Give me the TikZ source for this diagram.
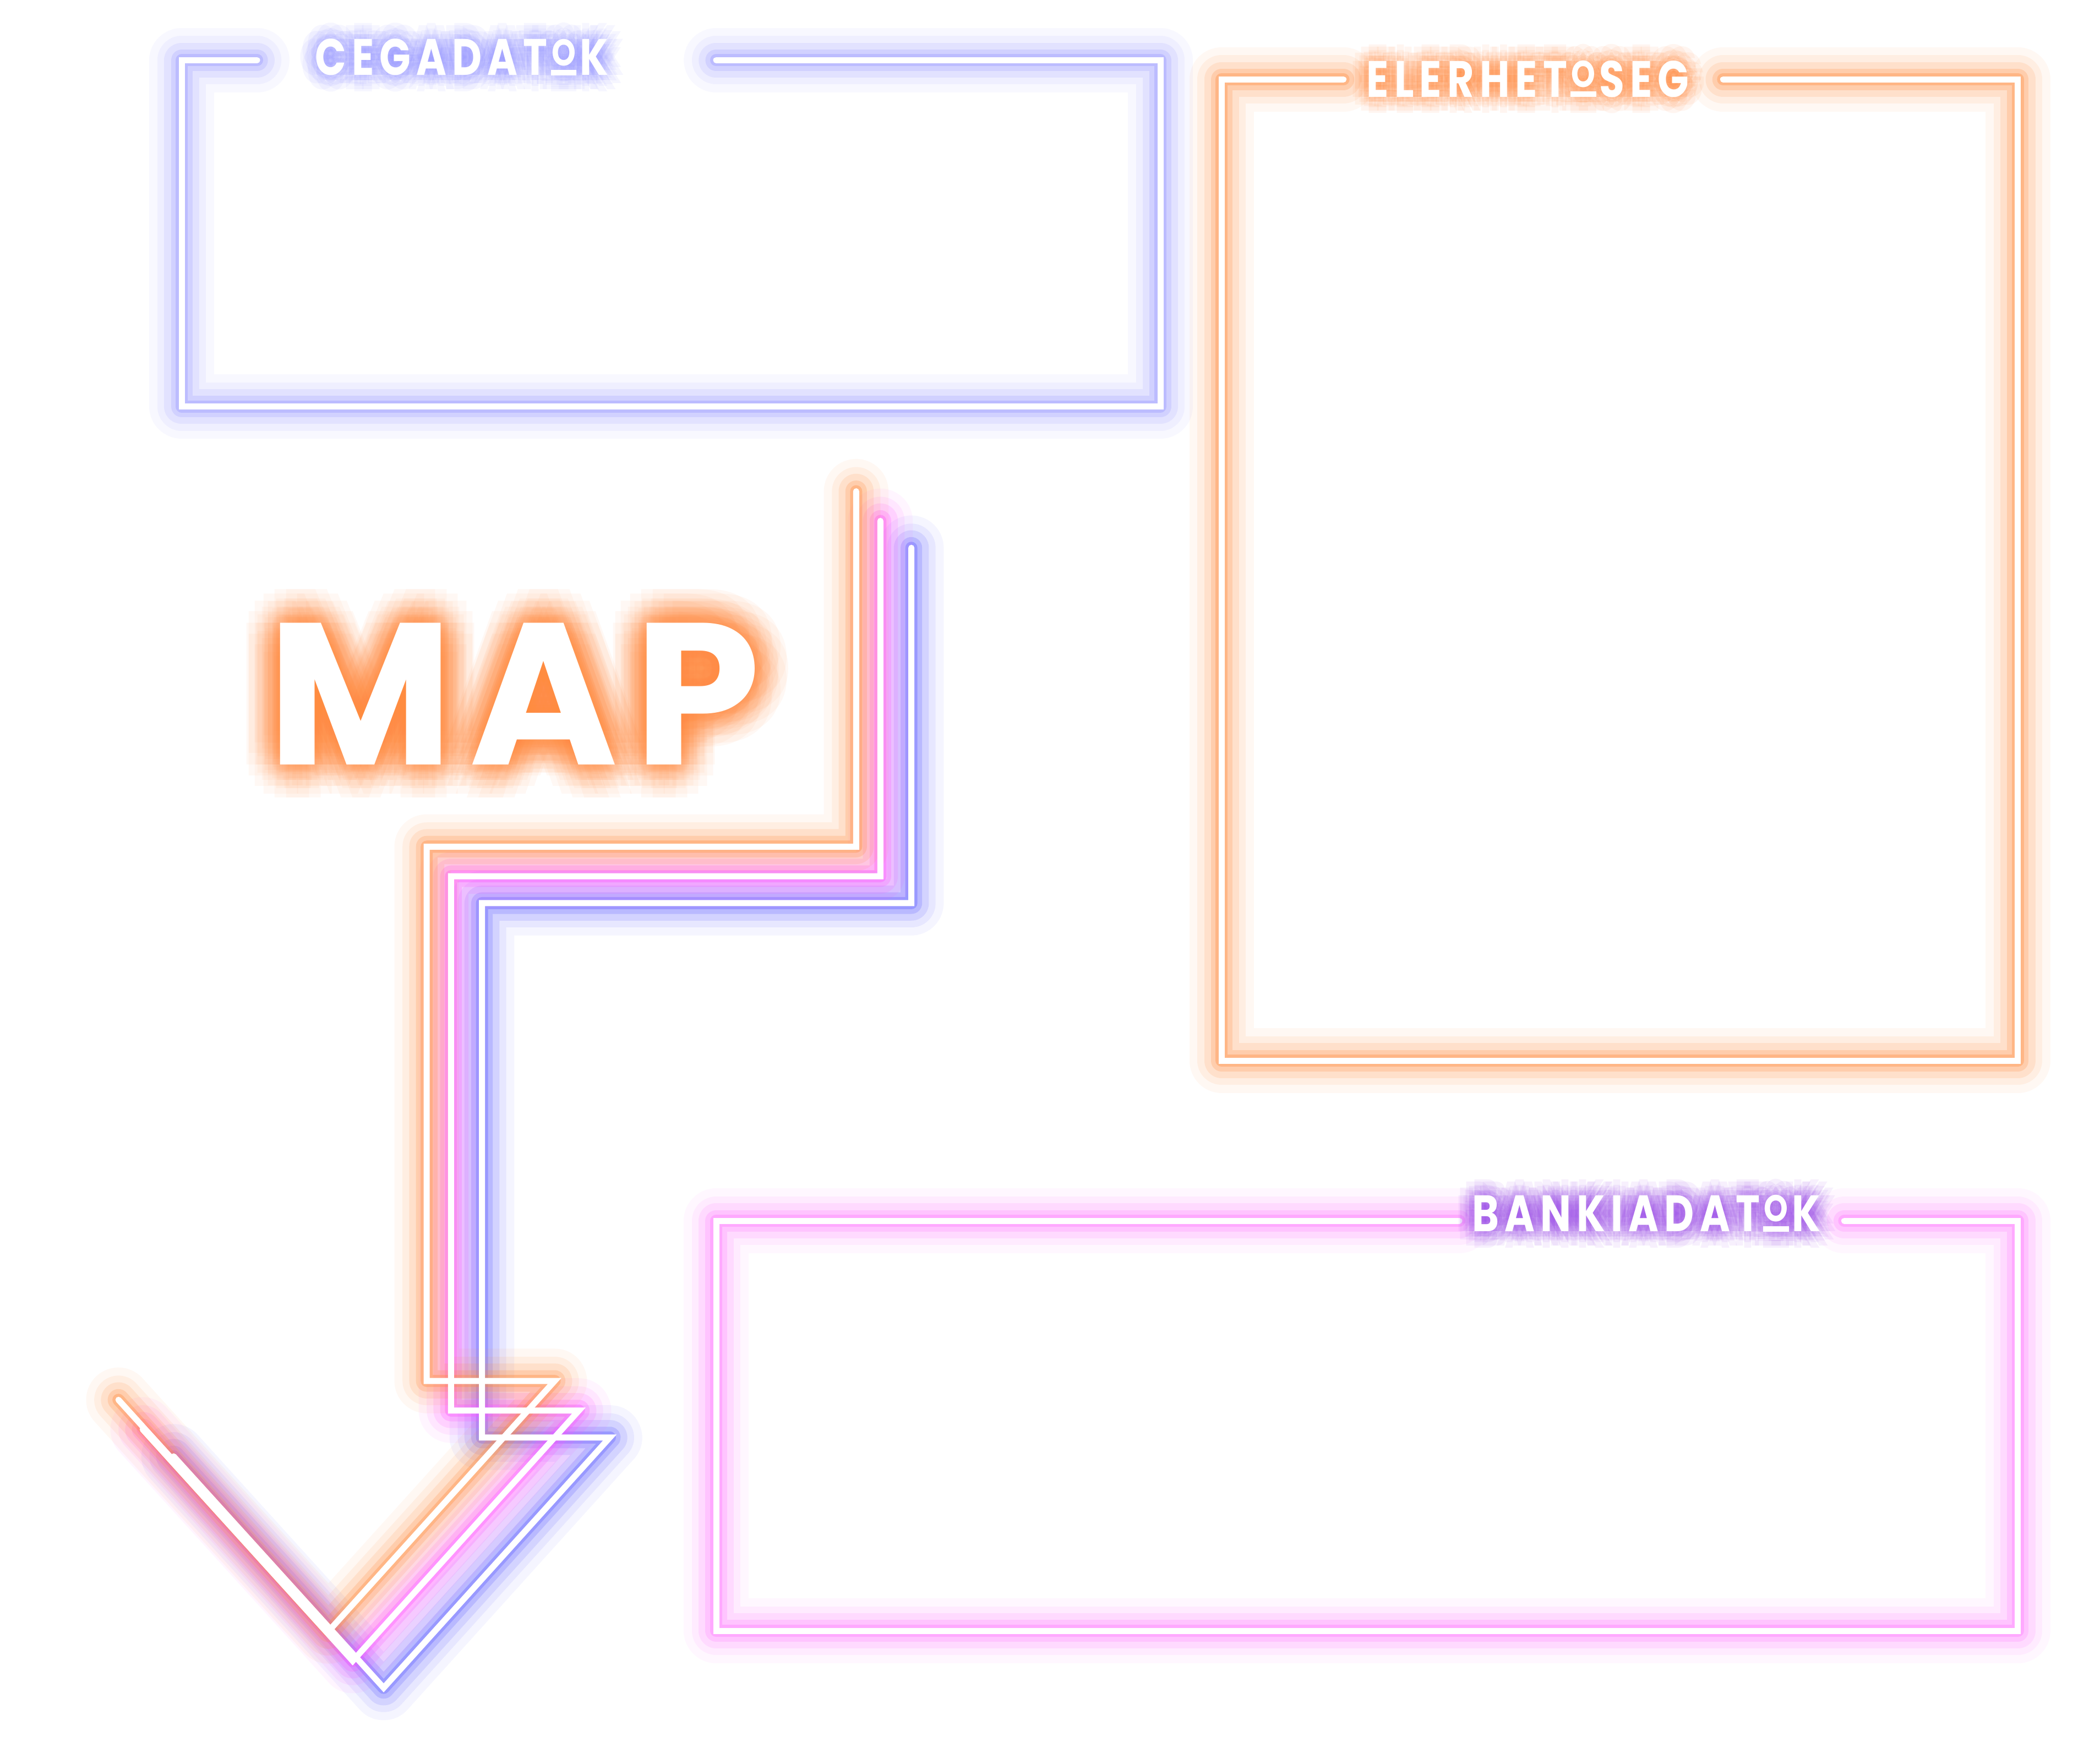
\documentclass[tikz,border=0pt]{standalone}
\usepackage{fontspec}
\usepackage{graphicx}
\usepackage{tikz}
\newfontfamily\labelfont[FakeStretch=0.8,LetterSpace=11]{Poppins}
\newfontfamily\mapfont[LetterSpace=8]{Poppins}

\definecolor{neonblue}{HTML}{9696FF}
\definecolor{neonorange}{HTML}{FF8C40}
\definecolor{neonpink}{HTML}{FF78FF}
\definecolor{neonviolet}{HTML}{9A48EA}
\definecolor{arrowpink}{HTML}{FF55FF}
\definecolor{arrowblue}{HTML}{6060FF}

% small O sitting on a bar
\newcommand\baro{{\setbox0\hbox{O}%
  \rlap{\hspace{0.1\wd0}\rule{0.8\wd0}{0.15\ht0}}%
  \makebox[\wd0]{\raisebox{0.27\ht0}{\resizebox{0.75\wd0}{0.73\ht0}{O}}}}}

\tikzset{
  neon line/.style={draw=white, line width=4.5pt, line cap=round},
  box label/.style={anchor=base, inner sep=0pt, font=\labelfont\bfseries\fontsize{38}{40}\selectfont},
  map label/.style={anchor=base, inner sep=0pt, font=\mapfont\bfseries\fontsize{150}{160}\selectfont},
}

\newcommand\neon[2]{%
  \foreach \w/\o in {48/0.06,36/0.09,26/0.14,16/0.22,9/0.35}
    {\draw[draw=#1, line width=\w pt, opacity=\o, line join=round, line cap=round] #2;}
  \draw[neon line] #2;
}
\newcommand\glowtext[7]{% style, name, colour, radii, angle step, position, text
  \foreach \r in {#4}
    \foreach \a in {0,#5,...,359}
      {\node[#1, text=#3, opacity=0.08*#5/30, shift={(\a:\r)}] at #6 {#7};}
  \node[#1, text=white] (#2) at #6 {#7};
}
\newcommand\arrowpath[1]{\draw[#1] (636,365) -- (636,629) -- (317,629) -- (317,1026) -- (412,1026) -- (244,1212) -- (88,1040);}

\begin{document}
\begin{tikzpicture}[x=1pt, y=-1pt]
\fill[white] (0,0) rectangle (1560,1298.7);
\useasboundingbox (0,0) rectangle (1560,1298.7);

% boxes
\neon{neonblue}{(191,44.7) -- (135,44.7) -- (135,302) -- (862,302) -- (862,44.7) -- (532,44.7)}
\neon{neonorange}{(998,59) -- (907.5,59) -- (907.5,788) -- (1499,788) -- (1499,59) -- (1280,59)}
\neon{neonpink}{(1084,907) -- (532,907) -- (532,1211.6) -- (1499,1211.6) -- (1499,907) -- (1370,907)}

% titles
\glowtext{box label}{cega}{neonblue}{4,8,12}{30}{(343,56)}{CEGADAT\baro K}
\glowtext{box label}{elerh}{neonorange}{4,8,12}{30}{(1135,72)}{ELERHET\baro SEG}
\glowtext{box label}{banki}{neonviolet}{4,8,12}{30}{(1223,915)}{BANKIADAT\baro K}
\glowtext{map label}{map}{neonorange}{6,12,18,25}{20}{(382,568)}{MAP}

% arrow, three copies
\foreach \col/\dx/\dy in {arrowblue/41/42, arrowpink/18/22, neonorange/0/0}
  \foreach \w/\o in {48/0.06,36/0.09,26/0.14,16/0.22,9/0.35}
    {\arrowpath{draw=\col, line width=\w pt, opacity=\o, line join=round, line cap=round, shift={(\dx,\dy)}}}
\foreach \dx/\dy in {41/42, 18/22, 0/0}
  {\arrowpath{neon line, shift={(\dx,\dy)}}}
\end{tikzpicture}
\end{document}
